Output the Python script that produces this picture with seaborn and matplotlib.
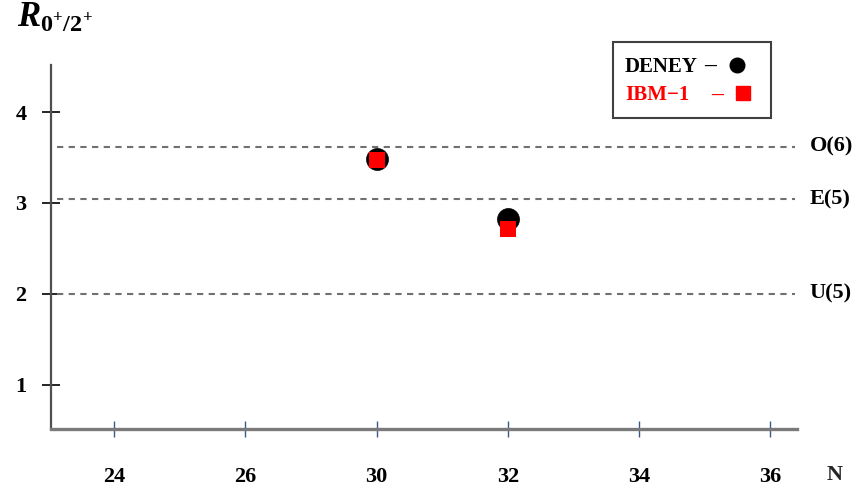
import matplotlib
matplotlib.use("Agg")
import matplotlib.pyplot as plt
from matplotlib.lines import Line2D
from matplotlib.patches import Rectangle
import seaborn as sns
import pandas as pd

# Neutron numbers shown on the x axis (evenly spaced categories)
n_ticks = [24, 26, 30, 32, 34, 36]
y_ticks = [1, 2, 3, 4]

# R(0+/2+) ratios
nuclei_n = [30, 32]
deney = [3.48, 2.82]
ibm1 = [3.47, 2.71]

# Dynamical-symmetry limits
limit_names = ["O(6)", "E(5)", "U(5)"]
limit_values = [3.62, 3.04, 2.0]

sns.set_theme(style="white")
plt.rcParams["font.family"] = ["Liberation Serif", "DejaVu Serif"]
plt.rcParams["font.weight"] = "bold"
plt.rcParams["mathtext.fontset"] = "custom"
plt.rcParams["mathtext.rm"] = "Liberation Serif:bold"
plt.rcParams["mathtext.bf"] = "Liberation Serif:bold"
plt.rcParams["mathtext.it"] = "Liberation Serif:italic:bold"

W, H = 861, 493

pos = [n_ticks.index(n) for n in nuclei_n]
df = pd.DataFrame({
    "pos": pos * 2,
    "R": deney + ibm1,
    "set": ["DENEY"] * len(pos) + ["IBM-1"] * len(pos),
})

fig = plt.figure(figsize=(W / 100, H / 100), dpi=100)
ax = fig.add_axes([0.0589, 0.1298, 0.8668, 0.7383])

for name, val in zip(limit_names, limit_values):
    ax.axhline(val, xmin=0.0085, xmax=0.997, color="#707070", lw=1.5,
               dashes=(3, 2.6), zorder=1)
    ax.text(1.017, val, name, transform=ax.get_yaxis_transform(),
            ha="left", va="center", fontsize=16, fontweight="bold",
            color="black", clip_on=False)

sns.scatterplot(data=df[df["set"] == "DENEY"], x="pos", y="R", ax=ax,
                marker="o", s=250, color="black", edgecolor="black",
                linewidth=0.5, legend=False, zorder=3)
sns.scatterplot(data=df[df["set"] == "IBM-1"], x="pos", y="R", ax=ax,
                marker="s", s=130, color="red", edgecolor="red",
                linewidth=0, legend=False, zorder=4)

ax.set_xlim(-0.4825, 5.204)
ax.set_ylim(0.513, 4.517)
ax.set_xticks(range(len(n_ticks)))
ax.set_xticklabels([str(n) for n in n_ticks])
ax.set_yticks(y_ticks)
ax.set_yticklabels([str(v) for v in y_ticks])
ax.set_xlabel("")
ax.set_ylabel("")

for side in ["top", "right"]:
    ax.spines[side].set_visible(False)
ax.spines["left"].set_color("#505050")
ax.spines["left"].set_linewidth(1.6)
ax.spines["bottom"].set_color("#7a7a7a")
ax.spines["bottom"].set_linewidth(2.4)

ax.tick_params(axis="x", direction="inout", length=11, width=1.0,
               color="#3a5a8a", pad=22, bottom=True, labelsize=16,
               labelcolor="black")
ax.tick_params(axis="y", direction="inout", length=13, width=1.2,
               color="black", pad=11, left=True, labelsize=16,
               labelcolor="black")
for lab in ax.get_xticklabels() + ax.get_yticklabels():
    lab.set_fontweight("bold")

ax.text(1.051, -0.127, "N", transform=ax.transAxes, ha="center",
        va="center", fontsize=16, fontweight="bold", clip_on=False)

fig.text(17 / W, 1 - 27 / H, r"$R_{0^{+}/2^{+}}$", ha="left",
         va="baseline", fontsize=25, color="black")

# Legend box with left-aligned labels and markers on the right
fig.add_artist(Rectangle((613 / W, 1 - 118 / H), 158 / W, 76 / H,
                         transform=fig.transFigure, fill=True,
                         facecolor="white", edgecolor="#404040", lw=1.5,
                         zorder=5))
legend_rows = [
    ("DENEY", "black", 64, 710, 737, 65, "o", 10.5),
    ("IBM\u22121", "red", 93, 717, 743, 93, "s", 9.5),
]
for label, col, yy, xdash, xmark, ymark, mk, ms in legend_rows:
    fig.text(625 / W, 1 - yy / H, label, ha="left", va="center_baseline",
             fontsize=15, fontweight="bold", color=col, zorder=6)
    fig.text(xdash / W, 1 - yy / H, "\u2013", ha="center",
             va="center_baseline", fontsize=17, fontweight="bold",
             color=col, zorder=6)
    fig.add_artist(Line2D([xmark / W], [1 - ymark / H], ls="none",
                          marker=mk, markersize=ms, color=col,
                          transform=fig.transFigure, zorder=6))

fig.savefig("out.png", dpi=100)
